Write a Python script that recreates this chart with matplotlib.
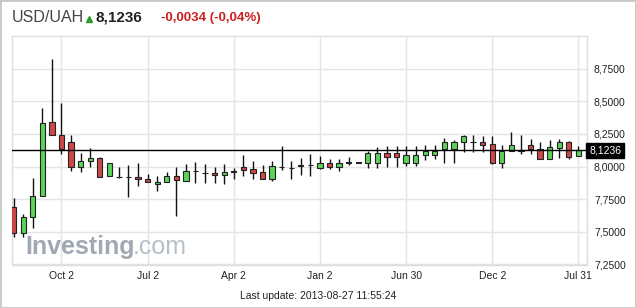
import matplotlib
matplotlib.use("Agg")
import matplotlib.pyplot as plt
from matplotlib.patches import Rectangle
import numpy as np

plt.rcParams['font.family'] = ['Liberation Sans', 'DejaVu Sans']

# monthly candles
opens = [7.690, 7.488, 7.611, 7.775, 8.338, 8.242, 8.188, 7.995, 8.042, 8.065,
         7.928, 7.918, 7.923, 7.918, 7.903, 7.865, 7.885, 7.926, 7.892, 7.969,
         7.954, 7.952, 7.934, 7.962, 7.995, 7.980, 7.957, 7.908, 8.000, 7.992,
         8.008, 8.010, 7.992, 8.026, 7.995, 8.031, 8.031, 8.026, 8.026, 8.103,
         8.103, 8.026, 8.026, 8.088, 8.088, 8.134, 8.134, 8.185, 8.190, 8.192,
         8.175, 8.026, 8.123, 8.123, 8.167, 8.134, 8.059, 8.141, 8.185, 8.082]
highs = [7.760, 7.634, 7.915, 8.449, 8.821, 8.488, 8.244, 8.103, 8.142, 8.077,
         8.026, 8.000, 8.013, 8.031, 7.942, 7.931, 7.957, 8.000, 8.021, 8.034,
         8.020, 8.000, 8.021, 7.988, 8.090, 8.046, 8.013, 8.046, 8.154, 8.046,
         8.069, 8.095, 8.082, 8.057, 8.059, 8.072, 8.033, 8.123, 8.149, 8.159,
         8.159, 8.159, 8.159, 8.167, 8.167, 8.218, 8.205, 8.244, 8.244, 8.236,
         8.236, 8.167, 8.265, 8.238, 8.213, 8.192, 8.205, 8.210, 8.198, 8.154]
lows = [7.460, 7.457, 7.526, 7.775, 8.242, 8.095, 7.969, 7.962, 7.995, 7.923,
        7.928, 7.915, 7.769, 7.854, 7.880, 7.815, 7.885, 7.621, 7.892, 7.872,
        7.877, 7.872, 7.865, 7.908, 7.931, 7.905, 7.908, 7.890, 7.975, 7.903,
        7.936, 7.928, 7.980, 7.985, 7.969, 8.013, 8.029, 7.992, 7.992, 8.000,
        8.000, 8.005, 8.005, 8.052, 8.057, 8.026, 8.026, 8.115, 8.111, 8.111,
        8.018, 7.987, 8.123, 8.095, 8.095, 8.059, 8.059, 8.069, 8.057, 8.082]
closes = [7.490, 7.611, 7.775, 8.334, 8.242, 8.138, 7.995, 8.042, 8.065, 7.923,
          8.026, 7.918, 7.923, 7.903, 7.885, 7.885, 7.926, 7.895, 7.969, 7.969,
          7.954, 7.934, 7.959, 7.962, 7.977, 7.954, 7.908, 8.003, 8.000, 7.992,
          8.008, 8.010, 8.026, 7.995, 8.026, 8.031, 8.031, 8.103, 8.103, 8.072,
          8.072, 8.088, 8.088, 8.121, 8.121, 8.185, 8.185, 8.236, 8.190, 8.169,
          8.026, 8.123, 8.167, 8.123, 8.134, 8.059, 8.149, 8.185, 8.077, 8.1236]

tick_pos = [5, 14, 23, 32, 41, 50, 59]
tick_labels = ['Oct 2', 'Jul 2', 'Apr 2', 'Jan 2', 'Jun 30', 'Dec 2', 'Jul 31']
y_ticks = [7.25, 7.5, 7.75, 8.0, 8.25, 8.5, 8.75]
last_price = 8.1236

fig = plt.figure(figsize=(6.36, 3.08), dpi=100)
W, H = 636, 308
ax = fig.add_axes([12 / W, 1 - 264.5 / H, (587 - 12) / W, (264.5 - 36) / H])

x = np.arange(len(opens))
o = np.array(opens); c = np.array(closes)
up = c > o
down = c < o
colors = np.where(up, '#5ad35a', np.where(down, '#cf4747', '#222222'))

ax.vlines(x, lows, highs, color='#111111', lw=1.0, zorder=3)
body_bottom = np.minimum(o, c)
body_h = np.maximum(np.abs(c - o), 0.0005)
ax.bar(x, body_h, bottom=body_bottom, width=0.55, color=colors,
       edgecolor='#222222', linewidth=0.8, zorder=4)

ax.axhline(last_price, color='black', lw=1.0, zorder=5)

ax.set_xlim(-0.17, 59.9)
ax.set_ylim(7.25, 9.0)
ax.set_xticks(tick_pos)
ax.set_xticklabels(tick_labels)
ax.set_yticks(y_ticks)
ax.set_yticklabels([f'{v:.4f}'.replace('.', ',') for v in y_ticks])
ax.yaxis.tick_right()
ax.tick_params(axis='both', length=0, labelsize=7.5, colors='#222222')
ax.tick_params(axis='x', pad=5)
ax.tick_params(axis='y', pad=5)
ax.grid(True, color='#e4e4e4', lw=1.0, zorder=0)
ax.set_axisbelow(True)
for s in ax.spines.values():
    s.set_color('#dddddd')
    s.set_linewidth(1.0)

# watermark
wm = ax.text(0.023, 0.045, 'Investing', transform=ax.transAxes, fontsize=18,
             fontweight='bold', color='#8e99a6', alpha=0.85, zorder=1)
ax.annotate('.com', xy=(1, 0), xycoords=wm, xytext=(-1.5, 0), textcoords='offset points',
            va='bottom', fontsize=18, color='#aab4be', alpha=0.85, zorder=1)

# current price tag
fig.text(589 / W, 1 - 150.6 / H, '8,1236', fontsize=7.5, color='white',
         va='center', ha='left',
         bbox=dict(boxstyle='square,pad=0.25', fc='black', ec='black'))

# header
fig.text(12 / W, 1 - 18 / H, 'USD/UAH', fontsize=11.5, color='#444444', va='center')
fig.lines.append(plt.Line2D([89 / W], [1 - 19 / H], marker='^', markersize=5,
                            color='#2e9a2e', transform=fig.transFigure))
fig.text(95 / W, 1 - 18 / H, '8,1236', fontsize=11, fontweight='bold',
         color='#222222', va='center')
fig.text(161 / W, 1 - 18 / H, '-0,0034 (-0,04%)', fontsize=9.5, fontweight='bold',
         color='#cc1f1f', va='center')

fig.text(318 / W, 1 - 296 / H, 'Last update: 2013-08-27 11:55:24', fontsize=7.5,
         color='#222222', ha='center', va='center')

fig.patches.append(Rectangle((0, 0), 1, 1, transform=fig.transFigure, fill=False,
                             ec='#c8c8c8', lw=2))

fig.savefig('out.png', dpi=100)
